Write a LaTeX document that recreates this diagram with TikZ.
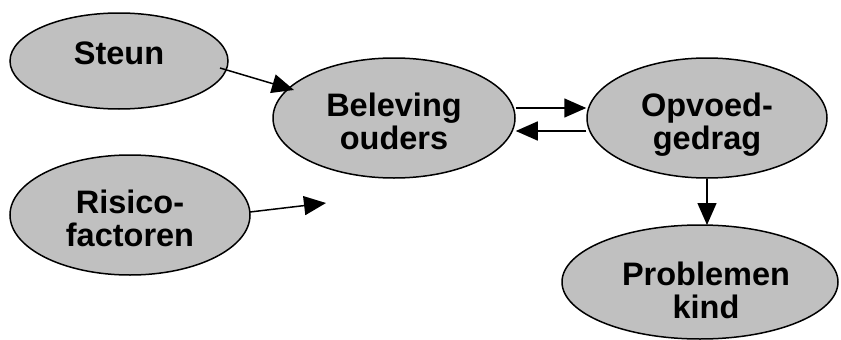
\documentclass[tikz,border=0pt]{standalone}
\usepackage{fontspec}
\setmainfont{Liberation Sans}
\usetikzlibrary{shapes.geometric,arrows.meta}
\begin{document}
\begin{tikzpicture}[x=1pt,y=-1pt,
  oval/.style={ellipse,draw=black,line width=1.5pt,fill=silverfill,inner sep=0pt},
  txt/.style={inner sep=0pt,align=center,font=\bfseries\fontsize{32.5}{33}\selectfont},
  link/.style={line width=1.5pt,-{Triangle[length=22pt,width=19pt]}}]
\definecolor{silverfill}{RGB}{192,192,192}
\useasboundingbox (0,0) rectangle (841,340);
\node[oval,minimum width=218pt,minimum height=96pt] (steun) at (119,61) {};
\node[oval,minimum width=242pt,minimum height=120pt] (bel) at (394,118) {};
\node[oval,minimum width=240pt,minimum height=120pt] (opv) at (707,118) {};
\node[oval,minimum width=240pt,minimum height=120pt] (ris) at (130,215) {};
\node[oval,minimum width=276pt,minimum height=114pt] (prob) at (700,282) {};
\node[txt] (steunT) at (119,53) {Steun};
\node[txt] (belT) at (394,121) {Beleving\\ouders};
\node[txt] (opvT) at (707,125) {Opvoed-\\gedrag};
\node[txt] (risT) at (130,218) {Risico-\\factoren};
\node[txt] (probT) at (706,290) {Problemen\\kind};
\coordinate (s1) at (220,68);
\coordinate (s2) at (294,90);
\coordinate (r1) at (250,212);
\coordinate (r2) at (326,203);
\coordinate (p2) at (707,225);
\draw[link] (s1) -- (s2);
\draw[link] (r1) -- (r2);
\draw[link] (bel.east |- 0,108) -- (opv.west |- 0,108);
\draw[link] (opv.west |- 0,131) -- (bel.east |- 0,131);
\draw[link] (opv.south) -- (p2);
\end{tikzpicture}
\end{document}
